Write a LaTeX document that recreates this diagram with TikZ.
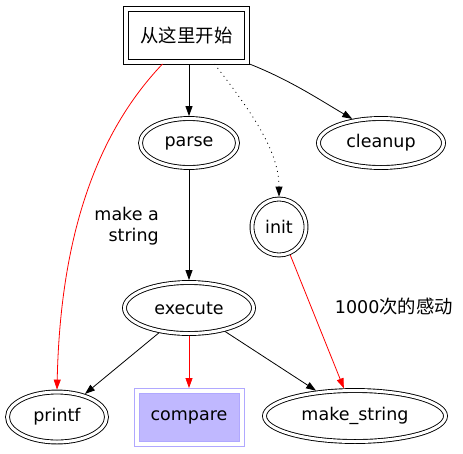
\documentclass[tikz,border=0pt]{standalone}
\usepackage{fontspec}
\setmainfont{DejaVu Sans}
\newfontfamily\cjk[Scale=1.05]{Noto Sans CJK SC}
\usetikzlibrary{arrows.meta,shapes.geometric}
\definecolor{lavfill}{RGB}{192,184,255}
\definecolor{lavline}{RGB}{176,168,255}
\begin{document}
\begin{tikzpicture}[x=1pt,y=-1pt,
  every node/.style={font=\fontsize{17.5}{21}\selectfont},
  dell/.style={ellipse, draw, double, double distance=3pt, line width=0.9pt, inner sep=0pt, outer sep=2.4pt},
  ibox/.style={rectangle, draw, line width=0.9pt, inner sep=0pt, outer sep=5pt},
  arr/.style={-{Triangle[length=10pt,width=7pt]}, line width=0.8pt},
  rarr/.style={arr, red, draw=red},
  lbl/.style={inner sep=0pt}
]
\useasboundingbox (0,0) rectangle (463,453);
\node[ibox, minimum width=116pt, minimum height=48pt] (start) at (186.5,35) {\cjk 从这里开始};
\draw[line width=0.9pt] (start.south west) rectangle (start.north east);
\node[dell, minimum width=97pt, minimum height=49pt] (parse) at (189,143) {parse};
\node[dell, minimum width=125pt, minimum height=49pt] (cleanup) at (381,143) {cleanup};
\node[dell, minimum width=54pt, minimum height=56pt] (init) at (279,227) {init};
\node[dell, minimum width=129pt, minimum height=51pt] (execute) at (189,308) {execute};
\node[dell, minimum width=99pt, minimum height=50pt] (printf) at (57,417) {printf};
\node[ibox, draw=lavline, fill=lavfill, minimum width=100pt, minimum height=48pt] (compare) at (189,417) {compare};
\draw[line width=0.9pt, lavline] (compare.south west) rectangle (compare.north east);
\node[dell, minimum width=181pt, minimum height=51pt] (make) at (355,416) {make\_string};

\draw[arr] ([xshift=2.5pt]start.south) -- (parse.north);
\draw[arr] ([xshift=63pt]start.south) .. controls (290,80) and (320,100) .. (cleanup.140);
\draw[arr, dash pattern=on 1pt off 4pt] ([xshift=28pt]start.south) .. controls (250,110) and (279,150) .. (init.north);
\draw[rarr] ([xshift=-24pt]start.south) .. controls (90,140) and (60,250) .. (printf.north);
\draw[arr] (parse) -- (execute);
\draw[arr] (execute) -- (printf);
\draw[rarr] (execute) -- (compare);
\draw[arr] (execute) -- (make);
\draw[rarr] (init) -- (make);

\node[lbl, align=right, anchor=east] (l1) at (159,226) {make a\\string};
\node[lbl] (l2) at (394,307) {1000{\cjk 次的感动}};
\end{tikzpicture}
\end{document}
